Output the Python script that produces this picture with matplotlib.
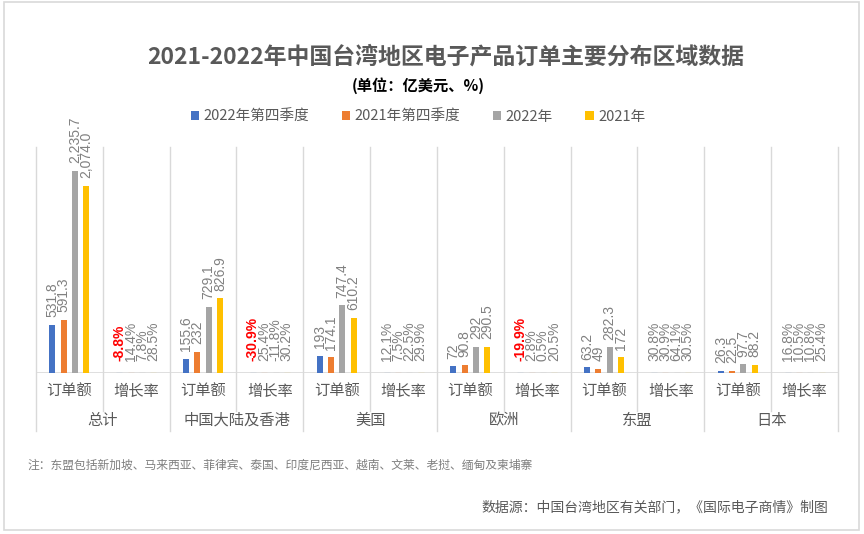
import numpy as np
import matplotlib
matplotlib.use("Agg")
import matplotlib.pyplot as plt
from matplotlib.patches import Rectangle, Patch

plt.rcParams['font.family'] = ['Noto Sans CJK SC', 'DejaVu Sans']

groups = ['总计', '中国大陆及香港', '美国', '欧洲', '东盟', '日本']
subs = ['订单额', '增长率']
series = ['2022年第四季度', '2021年第四季度', '2022年', '2021年']
colors = ['#4472C4', '#ED7D31', '#A5A5A5', '#FFC000']

# order amounts (亿美元), one list per series, one value per region
amt_q4_2022 = [531.8, 155.6, 193, 72, 63.2, 26.3]
amt_q4_2021 = [591.3, 232, 174.1, 90.8, 49, 22.5]
amt_2022 = [2235.7, 729.1, 747.4, 292, 282.3, 97.7]
amt_2021 = [2074.0, 826.9, 610.2, 290.5, 172, 88.2]

# growth rates (%)
gr_q4_2022 = [-8.8, -30.9, 12.1, -19.9, 30.8, 16.8]
gr_q4_2021 = [14.4, 25.4, 7.5, 2.8, 30.9, 10.5]
gr_2022 = [7.8, -11.8, 22.5, 0.5, 64.1, 10.8]
gr_2021 = [28.5, 30.2, 29.9, 20.5, 30.5, 25.4]

amounts = [amt_q4_2022, amt_q4_2021, amt_2022, amt_2021]
growths = [gr_q4_2022, gr_q4_2021, gr_2022, gr_2021]

fig = plt.figure(figsize=(8.64, 5.34), dpi=100)
ax = fig.add_axes([36/864, 161/534, 802/864, 226/534])

n = len(groups)
step = 0.169
width = 0.09
label_gray = '#808080'
lab_font = ['Liberation Sans', 'DejaVu Sans']


def fmt_amt(v):
    if v >= 1000:
        return f"{v:,.1f}"
    return f"{v:g}"


for s in range(4):
    off = (s - 1.5) * step
    xa = np.arange(n) * 2 + 0.5 + off
    xg = np.arange(n) * 2 + 1.5 + off
    ax.bar(xa, amounts[s], width=width, color=colors[s], zorder=3)
    # growth plotted as fractions, so they only show as stubs at the baseline
    g = np.array(growths[s]) / 100
    ax.bar(xg, g, width=width, color=colors[s], edgecolor=colors[s],
           linewidth=0.8, zorder=3)
    for x, v in zip(xa, amounts[s]):
        ax.annotate(fmt_amt(v), (x, v), xytext=(0, 5.5), textcoords='offset points',
                    rotation=90, ha='center', va='bottom', fontsize=10,
                    color=label_gray, family=lab_font)
    for x, v in zip(xg, growths[s]):
        red = (s == 0 and v < 0)
        ax.annotate(f"{v:.1f}%", (x, 0), xytext=(0, 8.5), textcoords='offset points',
                    rotation=90, ha='center', va='bottom', fontsize=10,
                    color='#FF0000' if red else label_gray,
                    fontweight='bold' if red else 'normal', family=lab_font)

ax.set_xlim(0, 2 * n)
ax.set_ylim(0, 2500)
for sp in ax.spines.values():
    sp.set_visible(False)
ax.set_xticks([])
ax.set_yticks([])
ax.axhline(0, color='#D9D9D9', lw=1.2, zorder=2)

tr = ax.get_xaxis_transform()
grid_c = '#D9D9D9'
for i in range(2 * n + 1):
    bottom = -0.257 if i % 2 == 0 else -0.17
    ax.plot([i, i], [bottom, 1], color=grid_c, lw=1, transform=tr,
            clip_on=False, zorder=1)

for i in range(2 * n):
    ax.text(i + 0.5, -0.08, subs[i % 2], transform=tr, ha='center', va='center',
            fontsize=11, color='#595959')
for j, gname in enumerate(groups):
    ax.text(2 * j + 1, -0.208, gname, transform=tr, ha='center', va='center',
            fontsize=11, color='#595959')

fig.text(446/864, 1 - 57/534, '2021-2022年中国台湾地区电子产品订单主要分布区域数据',
         ha='center', va='center', fontsize=16.5, fontweight='bold', color='#595959')
fig.text(418/864, 1 - 86/534, '(单位：亿美元、%)', ha='center', va='center',
         fontsize=11, fontweight='bold', color='black')

handles = [Patch(facecolor=c, edgecolor='none') for c in colors]
fig.legend(handles, series, loc='center', bbox_to_anchor=(418/864, 1 - 117/534),
           ncol=4, frameon=False, fontsize=10.5, labelcolor='#595959',
           handlelength=0.6, handleheight=0.6, handletextpad=0.3, columnspacing=2.2)

fig.text(27/864, 1 - 465/534,
         '注：东盟包括新加坡、马来西亚、菲律宾、泰国、印度尼西亚、越南、文莱、老挝、缅甸及柬埔寨',
         ha='left', va='center', fontsize=8.5, color='#7F7F7F')
fig.text(828/864, 1 - 507/534, '数据源：中国台湾地区有关部门，《国际电子商情》制图',
         ha='right', va='center', fontsize=10, color='#595959')

fig.patches.append(Rectangle((4/864, 1 - 530/534), 855/864, 528/534,
                             transform=fig.transFigure, fill=False,
                             edgecolor='#D9D9D9', lw=1.2))

fig.savefig('out.png', dpi=100, facecolor='white')
